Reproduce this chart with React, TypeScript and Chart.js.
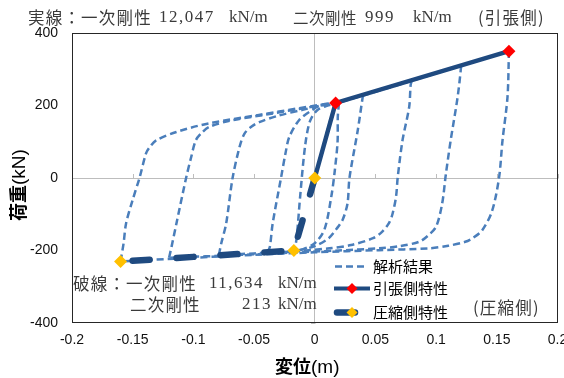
import React, { useEffect, useRef } from "react";
import { Chart, registerables } from "chart.js";

Chart.register(...registerables);

// ---- Axis ticks ----
const xMin = -0.2;
const xMax = 0.2;
const xStep = 0.05;
const yMin = -400;
const yMax = 400;
const yStep = 200;

// ---- Characteristic lines (skeleton curves) ----
const tensionX = [0, 0.0172, 0.16];
const tensionY = [0, 207, 350];
const compressionX = [0, -0.0172, -0.16];
const compressionY = [0, -200, -230.4];

// ---- Analysis result (hysteresis loops), branch by branch: [disp, load] ----
const initialLoad = [[0, 0], [0.006, 75], [0.012, 150], [0.0172, 205], [0.02, 208]];
const unload02 = [[0.02, 208], [0.019, 170], [0.0188, 100], [0.0165, 20], [0.0137, -50], [0.008, -142], [0.0, -180], [-0.01, -197], [-0.02, -204]];
const reload02 = [[-0.02, -204], [-0.016, -185], [-0.0145, -150], [-0.012, -50], [-0.008, 87], [-0.004, 156], [0.002, 187], [0.01, 199], [0.02, 209], [0.04, 229]];
const unload04 = [[0.04, 229], [0.0395, 223], [0.0354, 131], [0.0286, 0], [0.027, -70], [0.023, -115], [0.018, -140], [0.0115, -166], [0.0, -188], [-0.017, -201], [-0.039, -205]];
const reload04 = [[-0.039, -205], [-0.037, -190], [-0.0347, -126], [-0.0278, 0], [-0.024, 70], [-0.021, 113], [-0.0128, 160], [-0.002, 188], [0.006, 202], [0.02, 210], [0.08, 270]];
const unload08 = [[0.08, 270], [0.079, 256], [0.0778, 196], [0.0723, 104], [0.0683, 0], [0.067, -51], [0.064, -100], [0.061, -125], [0.055, -150], [0.048, -166], [0.03, -185], [0.012, -194], [-0.02, -203], [-0.05, -208], [-0.079, -213]];
const reload08 = [[-0.079, -213], [-0.077, -180], [-0.073, -126], [-0.0677, 0], [-0.062, 85], [-0.058, 122], [-0.052, 142], [-0.0457, 154], [-0.03, 172], [-0.01, 188], [0.005, 200], [0.02, 210], [0.12, 310]];
const unload12 = [[0.12, 310], [0.1205, 306], [0.1177, 223], [0.112, 104], [0.108, 10], [0.105, -70], [0.1, -134], [0.093, -160], [0.086, -176], [0.07, -188], [0.053, -194], [0.02, -200], [-0.02, -206], [-0.06, -212], [-0.12, -220]];
const reload12 = [[-0.12, -220], [-0.118, -190], [-0.114, -126], [-0.106, 0], [-0.102, 55], [-0.098, 104], [-0.093, 125], [-0.087, 141], [-0.07, 158], [-0.04, 175], [-0.01, 192], [0.01, 203], [0.02, 208], [0.16, 350]];
const unload16 = [[0.16, 350], [0.1588, 223], [0.1547, 104], [0.1518, 0], [0.146, -92], [0.138, -144], [0.13, -166], [0.124, -176], [0.11, -187], [0.094, -194], [0.053, -199], [0.0, -205], [-0.05, -212], [-0.1, -220], [-0.16, -230]];
const reload16 = [[-0.16, -230], [-0.1575, -180], [-0.1555, -126], [-0.15, -60], [-0.1444, 0], [-0.139, 68], [-0.136, 85], [-0.1307, 104], [-0.114, 127], [-0.087, 151], [-0.046, 174], [0.003, 201], [0.02, 208]];

const analysisBranches = [initialLoad, unload02, reload02, unload04, reload04, unload08, reload08, unload12, reload12, unload16, reload16];

// ---- Styles ----
const analysisColor = "#4a7ebb";
const navy = "#1f4a80";
const red = "#ff0000";
const amber = "#ffc000";

function toPoints(xs: number[], ys: number[]) {
  return xs.map((x, i) => ({ x, y: ys[i] }));
}

const framePlugin = {
  id: "framePlugin",
  beforeDatasetsDraw(chart: any) {
    const { ctx, scales } = chart;
    const xs = scales.x;
    const ys = scales.y;
    const y0 = ys.getPixelForValue(0);
    const x0 = xs.getPixelForValue(0);
    ctx.save();
    ctx.strokeStyle = "#bdbdbd";
    ctx.lineWidth = 1;
    ctx.beginPath();
    for (let v = xMin; v <= xMax + 1e-9; v += xStep) {
      const px = Math.round(xs.getPixelForValue(v)) + 0.5;
      ctx.moveTo(px, Math.round(y0) + 0.5);
      ctx.lineTo(px, Math.round(y0) - 4);
    }
    for (let v = yMin; v <= yMax; v += yStep) {
      const py = Math.round(ys.getPixelForValue(v)) + 0.5;
      ctx.moveTo(Math.round(x0) + 0.5, py);
      ctx.lineTo(Math.round(x0) - 4, py);
    }
    ctx.stroke();
    ctx.restore();
  },
  afterDraw(chart: any) {
    const { ctx, chartArea } = chart;
    ctx.save();
    ctx.strokeStyle = "#262626";
    ctx.lineWidth = 1;
    ctx.strokeRect(
      Math.round(chartArea.left) + 0.5,
      Math.round(chartArea.top) + 0.5,
      Math.round(chartArea.right - chartArea.left) - 1,
      Math.round(chartArea.bottom - chartArea.top) - 1
    );
    // legend samples
    const diamond = (cx: number, cy: number, r: number, color: string) => {
      ctx.fillStyle = color;
      ctx.beginPath();
      ctx.moveTo(cx, cy - r);
      ctx.lineTo(cx + r, cy);
      ctx.lineTo(cx, cy + r);
      ctx.lineTo(cx - r, cy);
      ctx.closePath();
      ctx.fill();
    };
    ctx.lineCap = "butt";
    ctx.strokeStyle = analysisColor;
    ctx.lineWidth = 2.5;
    ctx.setLineDash([7, 4]);
    ctx.beginPath();
    ctx.moveTo(335, 266.5);
    ctx.lineTo(366, 266.5);
    ctx.stroke();
    ctx.setLineDash([]);
    ctx.strokeStyle = navy;
    ctx.lineWidth = 4;
    ctx.beginPath();
    ctx.moveTo(334, 288.5);
    ctx.lineTo(370, 288.5);
    ctx.stroke();
    diamond(352, 288.5, 5.5, red);
    ctx.lineCap = "round";
    ctx.lineWidth = 6.5;
    ctx.beginPath();
    ctx.moveTo(337, 312.5);
    ctx.lineTo(355, 312.5);
    ctx.stroke();
    diamond(352, 312.5, 5.5, amber);
    ctx.restore();
  },
};

const fmtX = (v: number) => {
  const r = Math.round(v * 100) / 100;
  return String(r === 0 ? 0 : r);
};

export default function App() {
  const canvasRef = useRef<HTMLCanvasElement | null>(null);

  useEffect(() => {
    if (!canvasRef.current) return;
    const analysisSets = analysisBranches.map((b, i) => ({
      label: i === 0 ? "解析結果" : "",
      data: b.map(([x, y]) => ({ x, y })),
      showLine: true,
      borderColor: analysisColor,
      borderWidth: 2.5,
      borderDash: [7, 4],
      pointRadius: 0,
      tension: 0.3,
      order: 3,
    }));

    const chart = new Chart(canvasRef.current, {
      type: "scatter",
      data: {
        datasets: [
          {
            label: "引張側特性",
            data: toPoints(tensionX, tensionY),
            showLine: true,
            borderColor: navy,
            borderWidth: 4.5,
            pointStyle: "rectRot",
            pointRadius: [0, 6.5, 6.5],
            pointBackgroundColor: red,
            pointBorderColor: red,
            pointBorderWidth: 0,
            tension: 0,
            order: 2,
          },
          {
            label: "圧縮側特性",
            data: toPoints(compressionX, compressionY),
            showLine: true,
            borderColor: navy,
            borderWidth: 6.5,
            borderDash: [17, 27],
            borderCapStyle: "round",
            pointStyle: "rectRot",
            pointRadius: 6.5,
            pointBackgroundColor: amber,
            pointBorderColor: amber,
            pointBorderWidth: 0,
            tension: 0,
            order: 1,
          },
          ...analysisSets,
        ] as any,
      },
      options: {
        animation: false,
        responsive: false,
        layout: { padding: { top: 33, right: 5, left: 0, bottom: 0 } },
        plugins: {
          legend: { display: false },
          tooltip: { enabled: false },
        },
        scales: {
          x: {
            type: "linear",
            min: xMin,
            max: xMax,
            border: { display: false },
            grid: {
              drawTicks: false,
              color: (c: any) => (c.tick && Math.abs(c.tick.value) < 1e-9 ? "#bdbdbd" : "rgba(0,0,0,0)"),
            },
            ticks: {
              stepSize: xStep,
              padding: 9,
              autoSkip: false,
              maxRotation: 0,
              color: "#111",
              font: { family: "'Liberation Sans', Arial, sans-serif", size: 14 },
              callback: (v: any) => fmtX(Number(v)),
            },
            afterFit: (s: any) => {
              s.height = 55;
              s.paddingRight = 0;
              s.paddingLeft = 0;
            },
          },
          y: {
            type: "linear",
            min: yMin,
            max: yMax,
            border: { display: false },
            grid: {
              drawTicks: false,
              color: (c: any) => (c.tick && c.tick.value === 0 ? "#bdbdbd" : "rgba(0,0,0,0)"),
            },
            ticks: {
              stepSize: yStep,
              padding: 14,
              color: "#111",
              font: { family: "'Liberation Sans', Arial, sans-serif", size: 14 },
            },
            afterFit: (s: any) => {
              s.width = 72;
              s.paddingTop = 0;
              s.paddingBottom = 0;
            },
          },
        },
      } as any,
      plugins: [framePlugin],
    });
    return () => chart.destroy();
  }, []);

  const serif = "'Liberation Serif', 'Noto Sans CJK JP', serif";
  const jp = "'Noto Sans CJK JP', sans-serif";
  const note: React.CSSProperties = {
    position: "absolute",
    fontFamily: serif,
    fontSize: 17,
    color: "#3a3a3a",
    whiteSpace: "nowrap",
    lineHeight: "20px",
  };
  const jpNote: React.CSSProperties = { ...note, fontFamily: jp, fontSize: 16.5, letterSpacing: 1.2 };
  const legendText: React.CSSProperties = {
    position: "absolute",
    fontFamily: jp,
    fontSize: 15,
    color: "#000",
    whiteSpace: "nowrap",
    lineHeight: "18px",
    left: 373,
  };

  return (
    <div style={{ position: "absolute", left: 0, top: 0, width: 564, height: 378, background: "#fff", overflow: "hidden" }}>
      <canvas ref={canvasRef} width={564} height={378} style={{ width: 564, height: 378, display: "block" }} />

      {/* top annotation (tension side) */}
      <div style={{ ...jpNote, left: 28, top: 7 }}>実線：一次剛性</div>
      <div style={{ ...note, left: 159, top: 7, letterSpacing: 1.5 }}>12,047</div>
      <div style={{ ...note, left: 229, top: 7 }}>kN/m</div>
      <div style={{ ...jpNote, left: 293, top: 7, fontSize: 15.5, letterSpacing: 0.5 }}>二次剛性</div>
      <div style={{ ...note, left: 365, top: 7, letterSpacing: 1.5 }}>999</div>
      <div style={{ ...note, left: 413, top: 7 }}>kN/m</div>
      <div style={{ ...jpNote, left: 478, top: 7 }}>(引張側)</div>

      {/* compression annotation */}
      <div style={{ ...jpNote, left: 73, top: 273 }}>破線：一次剛性</div>
      <div style={{ ...note, left: 209, top: 273, letterSpacing: 1.5 }}>11,634</div>
      <div style={{ ...note, left: 278, top: 273 }}>kN/m</div>
      <div style={{ ...jpNote, left: 130, top: 294 }}>二次剛性</div>
      <div style={{ ...note, left: 242, top: 294, letterSpacing: 1.5 }}>213</div>
      <div style={{ ...note, left: 278, top: 294 }}>kN/m</div>
      <div style={{ ...jpNote, left: 473, top: 297 }}>(圧縮側)</div>

      {/* legend */}
      <div style={{ ...legendText, top: 257 }}>解析結果</div>
      <div style={{ ...legendText, top: 279 }}>引張側特性</div>
      <div style={{ ...legendText, top: 303 }}>圧縮側特性</div>

      {/* axis titles */}
      <div
        style={{
          position: "absolute",
          left: 275,
          top: 354,
          whiteSpace: "nowrap",
          fontSize: 18,
          lineHeight: "22px",
          color: "#000",
          fontFamily: jp,
        }}
      >
        <span style={{ fontWeight: 700 }}>変位</span>
        <span style={{ fontFamily: "'Liberation Sans', Arial, sans-serif", fontSize: 19 }}>(m)</span>
      </div>
      <div
        style={{
          position: "absolute",
          left: 17 - 45,
          top: 185 - 11,
          width: 90,
          height: 22,
          transform: "rotate(-90deg)",
          textAlign: "center",
          whiteSpace: "nowrap",
          fontSize: 18,
          lineHeight: "22px",
          color: "#000",
          fontFamily: jp,
        }}
      >
        <span style={{ fontWeight: 700 }}>荷重</span>
        <span style={{ fontFamily: "'Liberation Sans', Arial, sans-serif", fontSize: 19 }}>(kN)</span>
      </div>
    </div>
  );
}
